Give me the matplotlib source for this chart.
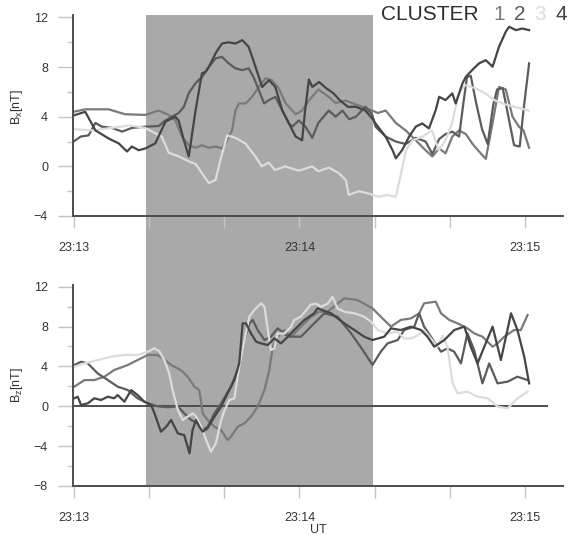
import matplotlib
matplotlib.use('Agg')
import matplotlib.pyplot as plt
from matplotlib.ticker import MultipleLocator, FuncFormatter

plt.rcParams['font.family'] = ['Liberation Sans', 'DejaVu Sans']
plt.rcParams['mathtext.fontset'] = 'custom'
plt.rcParams['mathtext.rm'] = 'Liberation Sans'
plt.rcParams['mathtext.it'] = 'Liberation Sans:italic'

# ---------------- data (seconds after 23:13 UT, nT) ----------------
series_names = ['1', '2', '3', '4']
series_colors = ['#7a7a7a', '#5c5c5c', '#dcdcdc', '#454545']
shade_interval = (19.2, 79.6)
zero_line_end = 126

bx_c1_t = [0, 3.1, 9.3, 13.7, 19.1, 22.6, 25.3, 27, 28.8, 30.6, 32.4, 34.1, 35.9, 37.7, 39.4, 40.3,
           42.1, 43, 43.9, 45.7, 47.4, 49.2, 51, 52.7, 54.5, 56.3, 58.1, 59, 60.7, 62.5, 65, 67.8,
           69.6, 72.3, 74, 76.7, 79.3, 80.8, 82.9, 85.6, 88.2, 90.9, 93.5, 95.3, 97.1, 98.8, 100.6,
           102.4, 104.2, 106, 107.7, 109.5, 111.3, 113, 114.8, 116.6, 118.3, 119.5, 121]
bx_c1_v = [4.4, 4.6, 4.6, 4.2, 4.15, 4.5, 4.14, 3.73, 2.4, 1.7, 1.5, 1.7, 1.5, 1.6, 1.45, 1.85,
           2.9, 4.5, 5.07, 5.07, 5.6, 6.4, 7.1, 6.95, 6.3, 5.1, 4.5, 4.2, 4.5, 5.3, 6.2, 5.6,
           5.1, 5.3, 5.1, 4.8, 4.5, 4.3, 4.5, 3.5, 2.9, 2.1, 1.3, 0.8, 1.45, 1.05, 2.4,
           2.9, 2.6, 1.8, 1.2, 0.6, 3.5, 6.4, 6.2, 4.0, 3.2, 2.9, 1.5]

bx_c2_t = [0, 1.9, 4, 5.8, 7.5, 10.2, 12.9, 15.5, 19.1, 22.6, 24.4, 26.1, 27.9, 29.3, 30.6, 32.4,
           34.1, 35.9, 37.7, 39.4, 41.2, 43, 44.8, 46.5, 47.8, 49.2, 50.6, 51.9, 53.6, 55.4, 57.2,
           58.1, 59.8, 61.6, 63.4, 65, 67.8, 69.6, 71.4, 73.2, 75, 77.5, 79.3, 80.2, 82.9, 85.6,
           88.2, 90.9, 93.5, 95.3, 97.1, 98.8, 100.6, 102.4, 103.5, 104.5, 105.5, 107, 108.5, 110,
           111.5, 112.5, 114, 115.5, 117, 118.5, 119.5, 121]
bx_c2_v = [2.0, 2.4, 2.5, 3.5, 3.2, 3.1, 2.8, 3.1, 3.2, 3.25, 3.7, 4.0, 4.3, 4.8, 5.9, 6.7,
           7.2, 8.0, 8.7, 8.83, 8.3, 7.9, 7.76, 7.9, 7.2, 6.15, 5.07, 5.34, 5.6, 4.54, 3.46,
           3.2, 3.7, 3.2, 2.3, 3.5, 4.5, 4.0, 4.5, 3.8, 4.0, 4.8, 4.2, 3.2, 2.4, 2.0,
           1.8, 2.3, 2.0, 1.0, 2.2, 2.6, 2.8, 2.4, 5.0, 7.2, 7.3, 5.0, 3.0, 1.8,
           5.0, 6.2, 6.3, 4.0, 1.7, 1.6, 4.5, 8.3]

bx_c3_t = [0, 5, 10, 15, 19, 23.4, 25.3, 28, 30.6, 32.4, 35.9, 37.7, 39, 40.8, 43, 45.6, 48.3, 50,
           51.8, 53.5, 56.2, 59.8, 63.4, 65, 67.8, 70.5, 72.3, 73.1, 75.8, 78.5, 81.1, 83.3, 85.6,
           87, 88.3, 90, 92.7, 95.2, 97, 98.8, 100.5, 102.3, 104, 106.7, 109.3, 112, 114.6, 117.2,
           120.8]
bx_c3_v = [3.0, 2.9, 3.1, 3.3, 3.1, 2.4, 1.1, 0.8, 0.4, 0.2, -1.35, -1.1, 0.5, 2.5, 2.3, 1.85, 0.8, 0,
           0.3, -0.3, 0, -0.35, 0, -0.4, -0.1, -0.55, -1.1, -2.3, -2.0, -2.2, -2.45, -2.3, -2.45,
           -0.55, 1.3, 2.1, 2.4, 2.9, 1.3, 2.1, 3.45, 5.9, 6.55, 6.3, 5.9, 5.3, 5.0, 4.8,
           4.5]

bx_c4_t = [0, 3.1, 5.8, 9.3, 12, 14.2, 15.5, 17.3, 19.1, 21.7, 24.4, 27, 27.9, 29.3, 30.6, 32.4,
           34.1, 35, 35.9, 37.7, 39.4, 41.2, 43, 44.8, 46.5, 47.8, 49.2, 50.1, 51.9, 53.6, 55.4,
           57.2, 59, 60.7, 61.5, 62.5, 63.4, 65.2, 67.1, 69, 70.8, 72.9, 75, 77.5, 79.5, 80.2,
           82.9, 84.7, 85.6, 87.3, 89.1, 90.9, 92.6, 94.4, 96.2, 97.1, 98.8, 100.6, 101.5, 103.3,
           104.2, 106, 107.7, 109.5, 111.3, 113, 114.8, 115.7, 117.5, 119.2, 121]
bx_c4_v = [4.1, 4.4, 2.9, 2.25, 1.85, 1.2, 1.6, 1.3, 1.45, 1.85, 3.6, 4.0, 3.7, 2.1, 0.8, 4.5,
           7.5, 7.6, 8.0, 9.1, 9.9, 10.0, 9.9, 10.17, 9.64, 8.5, 7.22, 6.4, 6.95, 6.4, 4.54,
           3.46, 2.4, 2.1, 4.5, 7.0, 6.4, 6.8, 6.3, 5.9, 5.3, 4.8, 4.8, 4.5, 3.8, 3.46,
           2.39, 1.32, 0.65, 1.32, 2.39, 3.2, 3.46, 3.06, 4.54, 5.61, 5.34, 5.88, 5.07, 6.69,
           7.22, 7.8, 8.3, 8.56, 8.03, 9.64, 10.85, 11.25, 10.98, 11.11, 10.98]

bz_c1_t = [0.2, 2.9, 5.5, 8.2, 10.8, 14.4, 17, 19.7, 22.3, 23.7, 25.9, 27.7, 29, 30.3, 32.1, 33.4,
           34.3, 35.6, 37.4, 39.2, 40.9, 41.8, 43.6, 45.4, 47.1, 48.9, 50.7, 52, 52.9, 54.2, 56,
           57.8, 59.5, 61.3, 63.1, 65.3, 67.5, 71.9, 75.4, 79.4, 81.6, 84.3, 86.9, 89.6, 91.8,
           93.1, 96.2, 97.6, 99.8, 102, 104.6, 106.4, 108.6, 111.3, 112.6, 114.4, 117, 118.8, 120.6]
bz_c1_v = [1.97, 2.63, 2.63, 2.97, 3.64, 4.14, 4.64, 5.15, 5.15, 4.81, 4.14, 3.8, 3.47, 2.97, 1.97, 1.63,
           -0.71, -1.38, -2.05, -2.4, -3.39, -3.05, -2.05, -1.71, -1.05, -0.04, 1.63, 3.64, 5.98, 6.98, 7.65,
           6.98, 7.65, 8.32, 8.99, 9.49, 9.49, 10.83, 10.66, 9.83, 8.99, 7.99, 8.66, 8.82, 9.33,
           10.33, 10.5, 9.33, 8.66, 8.32, 7.82, 7.32, 6.98, 5.98, 6.31, 6.98, 7.65, 7.65, 9.16]

bz_c2_t = [0.2, 2.0, 3.8, 6.4, 9.1, 11.7, 14.4, 17, 19.7, 22.3, 25, 27.7, 29.4, 31.2, 33, 34.3,
           35.6, 37.4, 39.2, 41.8, 43.6, 45.4, 46.7, 47.6, 48.9, 50.7, 52.4, 54.2, 57, 60.4, 63.9,
           66.6, 70.1, 73.7, 76.8, 79.4, 81.6, 83.4, 86.1, 87.8, 90.5, 91.8, 93.1, 95.8, 97.6,
           99.3, 101.1, 102.9, 104.6, 106.4, 108.6, 110.4, 112.6, 115.3, 117.9, 120.6]
bz_c2_v = [4.14, 4.47, 4.3, 3.3, 2.63, 1.97, 1.63, 0.8, 0.3, 0, -0.1, 0, -0.71, -1.38, -1.7, -2.4,
           -2.05, -0.71, 0.3, 1.97, 3.64, 6.65, 8.32, 8.66, 7.65, 6.65, 6.98, 7.82, 7.0, 6.98, 8.32,
           9.33, 8.99, 7.32, 5.65, 4.14, 5.48, 6.31, 6.65, 7.65, 7.99, 9.33, 7.99, 6.48, 5.48,
           5.81, 5.48, 4.3, 7.32, 5.65, 2.3, 4.3, 2.3, 2.47, 2.97, 2.63]

bz_c3_t = [0.2, 2.9, 6.4, 10, 13.5, 17, 19.7, 21.5, 22.8, 24.1, 25.4, 26.3, 27.7, 29, 30.3, 31.6,
           32.5, 33.9, 35.2, 36.5, 37.8, 39.2, 40.1, 41.4, 42.7, 44, 45.4, 46.7, 48, 49.8, 50.7,
           51.6, 52.4, 53.3, 54.2, 56, 57.8, 58.6, 60.4, 63, 64.4, 65.7, 67.5, 68.8, 70.1, 71.9,
           74.6, 77.2, 79, 80.8, 83.4, 86, 87.8, 89.6, 91.4, 93.1, 94.9, 96.7, 98, 99.3, 100.7,
           102, 104.6, 107.3, 110, 112.6, 115.3, 117.9, 120.6]
bz_c3_v = [3.97, 4.3, 4.64, 4.98, 5.15, 5.15, 5.48, 5.81, 5.5, 4.64, 3.3, 1.63, -0.38, -1.38, -1.05, -0.71,
           -1.0, -2.05, -3.39, -4.56, -3.72, -1.38, -0.38, 0.63, 0.8, 3.97, 6.65, 8.99, 9.66, 10.33, 10.0,
           7.65, 5.65, 5.8, 7.3, 7.3, 7.99, 8.66, 9.0, 10.2, 10.3, 9.99, 10.3, 10.99, 9.8, 9.49,
           9.33, 8.99, 8.49, 7.65, 7.3, 7.5, 6.8, 6.8, 7.1, 7.65, 6.8, 5.98, 7.1, 5.98, 2.3,
           1.3, 1.46, 0.96, 0.8, -0.04, -0.2, 0.8, 1.46]

bz_c4_t = [0.2, 1.1, 2, 3.8, 5.5, 7.3, 9.1, 10.8, 11.7, 13.5, 15.3, 17, 18.8, 20.6, 21.5, 23.2,
           24.6, 25.9, 27.7, 29.4, 30.8, 31.6, 32.5, 33.4, 34.3, 35.6, 37.4, 39.2, 40.9, 42.7, 44,
           44.9, 45.8, 47.1, 48.5, 49.8, 51.6, 53.3, 55.1, 56.9, 58.6, 61.3, 63.9, 64.8, 68.4, 71.9,
           74.6, 77.2, 79.4, 82.5, 84.3, 86.9, 89.6, 92.3, 94, 95.8, 98.5, 101.1, 103.8, 105.5,
           107.3, 109.1, 111.3, 113.5, 116.2, 117.9, 119.7, 121]
bz_c4_v = [0.8, 0.96, 0.13, 0.3, 0.8, 0.63, 0.96, 0.8, 1.13, 0.46, 1.63, 1.13, 0.46, 0.13, -0.71, -2.55,
           -2.05, -1.38, -2.72, -2.9, -4.72, -2.38, -1.38, -2.05, -2.55, -2.2, -1.05, -0.04, 1.3, 2.63, 4.3,
           8.32, 8.32, 7.32, 6.48, 6.31, 6.15, 6.82, 6.31, 6.98, 7.65, 8.66, 9.33, 9.83, 9.33, 8.32,
           7.65, 6.98, 6.65, 6.98, 7.82, 7.65, 7.99, 7.65, 6.98, 5.98, 6.65, 7.65, 7.99, 5.98,
           4.3, 5.98, 7.99, 4.64, 9.33, 7.65, 4.98, 2.3]

x_ticks_major = [0, 60, 120]
x_tick_labels = ['23:13', '23:14', '23:15']

# ---------------- figure ----------------
W, H = 576, 535
fig = plt.figure(figsize=(W / 100, H / 100), dpi=100)


def rect(l, t, r, b):
    return [l / W, 1 - b / H, (r - l) / W, (b - t) / H]


ax1 = fig.add_axes(rect(73, 15, 563, 216))
ax2 = fig.add_axes(rect(73, 285, 563, 486))

dark = '#4d4d4d'
tick_col = '#c4c4c4'
text_col = '#333333'
shade_col = '#a9a9a9'


def fmt(x, pos):
    if x in x_ticks_major:
        return x_tick_labels[x_ticks_major.index(x)]
    return ''


for ax in (ax1, ax2):
    ax.set_facecolor('none')
    for s in ('top', 'right'):
        ax.spines[s].set_visible(False)
    for s in ('left', 'bottom'):
        ax.spines[s].set_color(dark)
        ax.spines[s].set_linewidth(1.4)
    ax.xaxis.set_major_locator(MultipleLocator(60))
    ax.xaxis.set_minor_locator(MultipleLocator(20))
    ax.xaxis.set_major_formatter(FuncFormatter(fmt))
    ax.yaxis.set_major_locator(MultipleLocator(4))
    ax.yaxis.set_minor_locator(MultipleLocator(2))
    ax.tick_params(axis='x', which='both', length=8.5, width=1, color=tick_col,
                   pad=10, labelsize=9, labelcolor=text_col)
    ax.tick_params(axis='y', which='major', length=11, width=1, color=tick_col,
                   pad=7, labelsize=9, labelcolor=text_col)
    ax.tick_params(axis='y', which='minor', length=4, width=1, color=tick_col)
    ax.set_xlim(-0.15, 130)

ax1.set_ylim(-4, 12.2)
ax2.set_ylim(-8, 12.17)

# shaded interval spanning both panels
p1 = ax1.get_position()
p2 = ax2.get_position()
ymin_ext = -(p1.y0 - p2.y1) / p1.height
ax1.axvspan(shade_interval[0], shade_interval[1], ymin=ymin_ext, ymax=1,
            color=shade_col, lw=0, clip_on=False, zorder=0)
ax2.axvspan(shade_interval[0], shade_interval[1], color=shade_col, lw=0, zorder=0)

ax2.hlines(0, 0, zero_line_end, color=dark, lw=1.4, zorder=1)

top_data = [(bx_c1_t, bx_c1_v), (bx_c2_t, bx_c2_v), (bx_c3_t, bx_c3_v), (bx_c4_t, bx_c4_v)]
bot_data = [(bz_c1_t, bz_c1_v), (bz_c2_t, bz_c2_v), (bz_c3_t, bz_c3_v), (bz_c4_t, bz_c4_v)]
for (t, v), c in zip(top_data, series_colors):
    ax1.plot(t, v, color=c, lw=1.6, zorder=2)
for (t, v), c in zip(bot_data, series_colors):
    ax2.plot(t, v, color=c, lw=1.6, zorder=2)

ax1.set_ylabel(r'B$_\mathregular{x}$[nT]', fontsize=9, color=text_col)
ax1.yaxis.set_label_coords((25 - 73) / 490, 0.54)
ax2.set_ylabel(r'B$_\mathregular{z}$[nT]', fontsize=9, color=text_col)
ax2.yaxis.set_label_coords((25 - 73) / 490, 0.5)
ax2.set_xlabel('UT', fontsize=9, color=text_col, labelpad=0)

# CLUSTER legend
fig.text(381 / W, 1 - 14 / H, 'CLUSTER', fontsize=15, color='#2e2e2e', ha='left', va='center')
digit_x = [499, 520, 540, 561]
for name, c, x in zip(series_names, series_colors, digit_x):
    fig.text(x / W, 1 - 14 / H, name, fontsize=15, color=c, ha='center', va='center')

fig.savefig('out.png', dpi=100)
